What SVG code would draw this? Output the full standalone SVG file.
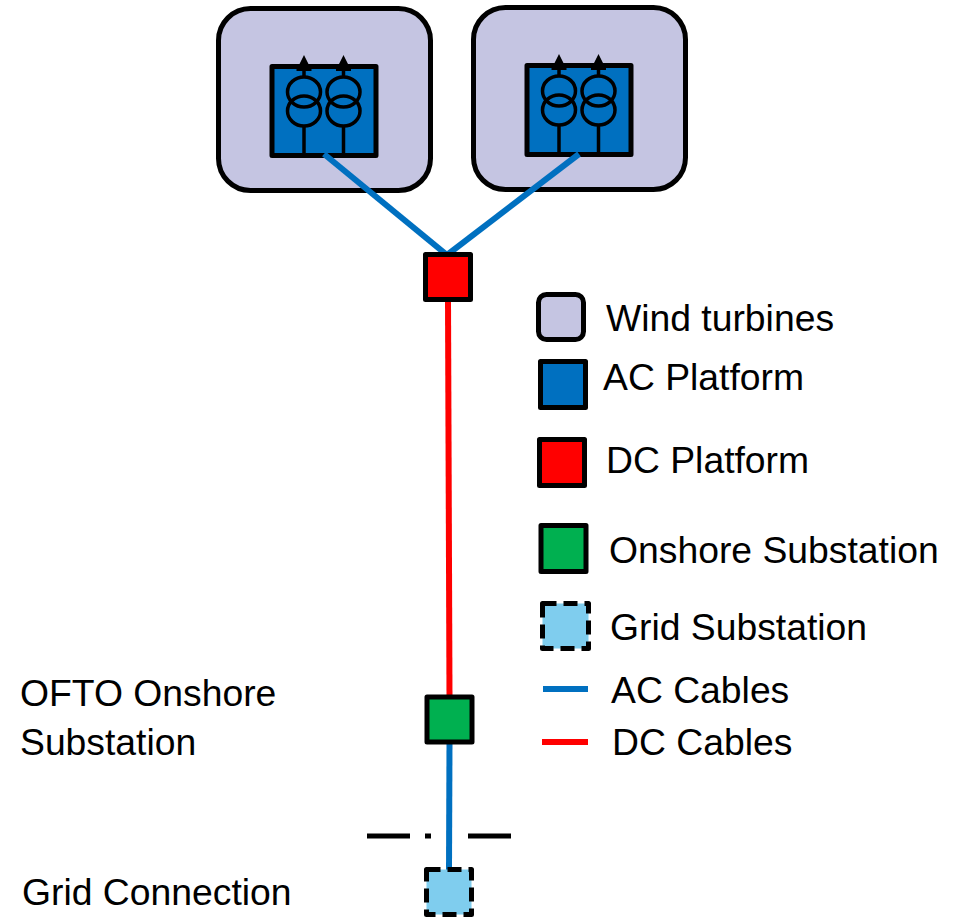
<svg xmlns="http://www.w3.org/2000/svg" width="959" height="917" viewBox="0 0 959 917">
<style>
text{font-family:"Liberation Sans",Arial,sans-serif;font-size:37.300px;fill:#000}
.b{stroke:#000;stroke-width:5;stroke-linejoin:round}
.w{fill:#c5c5e2;stroke:#000;stroke-width:5}
.ac{fill:#0070c0}.dc{fill:#ff0000}.on{fill:#00b050}
.g{fill:#7fcdee;stroke:#000;stroke-width:5;stroke-dasharray:14 7;stroke-linejoin:round}
.cb{fill:none;stroke:#0070c0;stroke-width:6}
.cr{fill:none;stroke:#ff0000;stroke-width:6}
.t{fill:none;stroke:#000;stroke-width:3.500}
.k{fill:none;stroke:#000;stroke-width:5}
</style>
<defs>
<g id="tr">
<path class="t" d="M0 20V29"/><ellipse class="t" cx="0" cy="44" rx="16.500" ry="15"/><ellipse class="t" cx="0" cy="63" rx="16.500" ry="15"/><path class="t" d="M0 78V107"/>
<path d="M0 7L-6.500 20H-7.500V23H7.500V20H6.500Z" fill="#000"/>
</g>
</defs>
<g id="wind-1"><rect class="w" x="218.500" y="8.500" width="212" height="182" rx="32"/></g>
<g id="wind-2"><rect class="w" x="473.500" y="7.500" width="212" height="182" rx="32"/></g>
<g id="ac-platform-1"><rect class="ac b" x="272" y="66.500" width="104" height="89"/><use href="#tr" x="304" y="48"/><use href="#tr" x="343.500" y="48"/></g>
<g id="ac-platform-2"><rect class="ac b" x="527" y="65.500" width="104" height="89"/><use href="#tr" x="559" y="47"/><use href="#tr" x="598.500" y="47"/></g>
<g id="connectors">
<path class="cb" d="M324 154L447 255"/>
<path class="cb" d="M579 154L447 255"/>
<path class="cr" d="M448 300L449.500 696"/>
<path class="cb" d="M449.500 743L449 870"/>
</g>
<g id="dc-platform"><rect class="dc b" x="425.500" y="254.500" width="45" height="45"/></g>
<g id="ofto-substation"><rect class="on b" x="427" y="697" width="45" height="45"/><text x="20" y="706">OFTO Onshore</text><text x="20" y="755">Substation</text></g>
<g id="boundary"><path class="k" d="M367 836H410M425 836H431M468 836H511"/></g>
<g id="grid-connection"><rect class="g" x="426.500" y="869.500" width="45" height="45"/><text x="22" y="905">Grid Connection</text></g>
<g id="legend-wind"><rect class="w" x="538.500" y="294.500" width="45" height="45" rx="8"/><text x="606" y="331">Wind turbines</text></g>
<g id="legend-ac"><rect class="ac b" x="540.500" y="361.500" width="45" height="46"/><text x="603" y="390">AC Platform</text></g>
<g id="legend-dc"><rect class="dc b" x="539.500" y="439.500" width="45" height="46"/><text x="606" y="473">DC Platform</text></g>
<g id="legend-on"><rect class="on b" x="541" y="525.500" width="45" height="46"/><text x="609" y="563">Onshore Substation</text></g>
<g id="legend-grid"><rect class="g" x="542.500" y="603.500" width="46" height="45"/><text x="610" y="640">Grid Substation</text></g>
<g id="legend-ac-cable"><path class="cb" d="M543 689H588"/><text x="611" y="703">AC Cables</text></g>
<g id="legend-dc-cable"><path class="cr" d="M542 742H588"/><text x="612" y="755">DC Cables</text></g>
</svg>
